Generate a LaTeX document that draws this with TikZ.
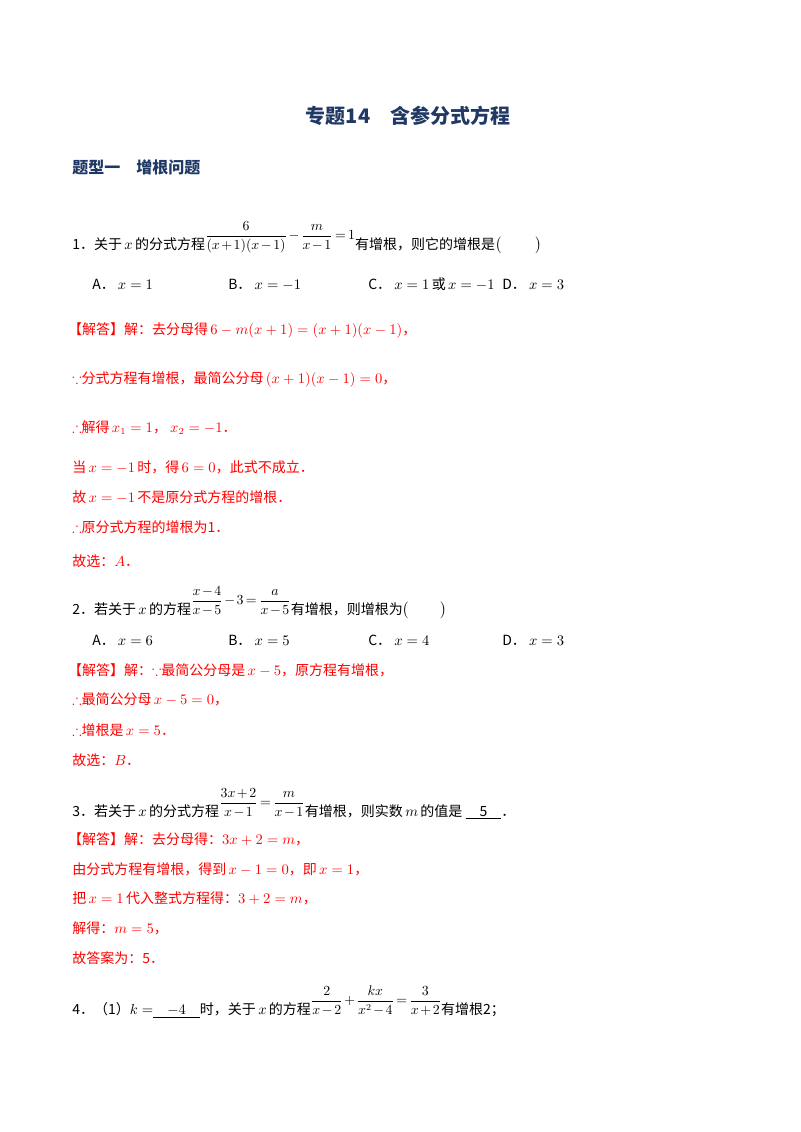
\documentclass[tikz,border=0pt]{standalone}
\usepackage{amsmath,amssymb,graphicx}
\usepackage{fontspec}
\setmainfont{Noto Sans CJK SC}
\definecolor{navy}{HTML}{1F3864}
\definecolor{ans}{HTML}{FF0000}
\newcommand{\fr}[1]{\raisebox{7pt}{\scalebox{0.95}{$\thinmuskip=2mu\medmuskip=2mu\thickmuskip=3mu #1$}}}
\newcommand{\lb}{\hspace{-0.3em}【}
\begin{document}
\begin{tikzpicture}[x=0.75pt,y=-0.75pt,
  txt/.style={anchor=base west,inner sep=0pt,font=\fontsize{10.5}{13}\selectfont},
  red/.style={txt,text=ans}]
\useasboundingbox (0,0) rectangle (800,1132);
\node[anchor=base,inner sep=0pt,font=\fontsize{15}{18}\bfseries,text=navy] (title) at (408,123) {专题14\quad 含参分式方程};
\node[txt,font=\fontsize{12}{14}\bfseries,text=navy] (sec) at (72,173) {题型一\quad 增根问题};
% Q1
\node[txt] (q1) at (72,249) {1．关于\,$x$\,的分式方程\fr{\dfrac{6}{(x+1)(x-1)}-\dfrac{m}{x-1}=1}有增根，则它的增根是$\bigl($\qquad\ \ $\bigr)$};
\node[txt] (q1a) at (92,289) {A．\ $x=1$};
\node[txt] (q1b) at (228,289) {B．\ $x=-1$};
\node[txt] (q1c) at (368,289) {C．\ $x=1$\,或\,$x=-1$};
\node[txt] (q1d) at (502,289) {D．\ $x=3$};
\node[red] (s1a) at (72,334) {\lb 解答】解：去分母得\,$6-m(x+1)=(x+1)(x-1)$，};
\node[red] (s1b) at (72,383) {$\because$分式方程有增根，最简公分母\,$(x+1)(x-1)=0$，};
\node[red] (s1c) at (72,432) {$\therefore$解得\,$x_1=1$，\ $x_2=-1$．};
\node[red] (s1d) at (72,472) {当\,$x=-1$\,时，得\,$6=0$，此式不成立．};
\node[red] (s1e) at (72,502) {故\,$x=-1$\,不是原分式方程的增根．};
\node[red] (s1f) at (72,532) {$\therefore$原分式方程的增根为1．};
\node[red] (s1g) at (72,566) {故选：$A$．};
% Q2
\node[txt] (q2) at (72,614) {2．若关于\,$x$\,的方程\fr{\dfrac{x-4}{x-5}-3=\dfrac{a}{x-5}}有增根，则增根为$\bigl($\qquad\ $\bigr)$};
\node[txt] (q2a) at (92,645) {A．\ $x=6$};
\node[txt] (q2b) at (228,645) {B．\ $x=5$};
\node[txt] (q2c) at (368,645) {C．\ $x=4$};
\node[txt] (q2d) at (502,645) {D．\ $x=3$};
\node[red] (s2a) at (72,675) {\lb 解答】解：$\because$最简公分母是\,$x-5$，原方程有增根，};
\node[red] (s2b) at (72,704) {$\therefore$最简公分母\,$x-5=0$，};
\node[red] (s2c) at (72,735) {$\therefore$增根是\,$x=5$．};
\node[red] (s2d) at (72,765) {故选：$B$．};
% Q3
\node[txt] (q3) at (72,816) {3．若关于\,$x$\,的分式方程\fr{\dfrac{3x+2}{x-1}=\dfrac{m}{x-1}}有增根，则实数\,$m$\,的值是\ \underline{\quad 5\quad}．};
\node[red] (s3a) at (72,844) {\lb 解答】解：去分母得：$3x+2=m$，};
\node[red] (s3b) at (72,874) {由分式方程有增根，得到\,$x-1=0$，即\,$x=1$，};
\node[red] (s3c) at (72,903) {把\,$x=1$\,代入整式方程得：$3+2=m$，};
\node[red] (s3d) at (72,933) {解得：$m=5$，};
\node[red] (s3e) at (72,963) {故答案为：5．};
% Q4
\node[txt] (q4) at (72,1014) {4．（1）$k=$\underline{\quad$-4$\quad}时，关于\,$x$\,的方程\fr{\dfrac{2}{x-2}+\dfrac{kx}{x^2-4}=\dfrac{3}{x+2}}有增根2；};
\end{tikzpicture}
\end{document}
